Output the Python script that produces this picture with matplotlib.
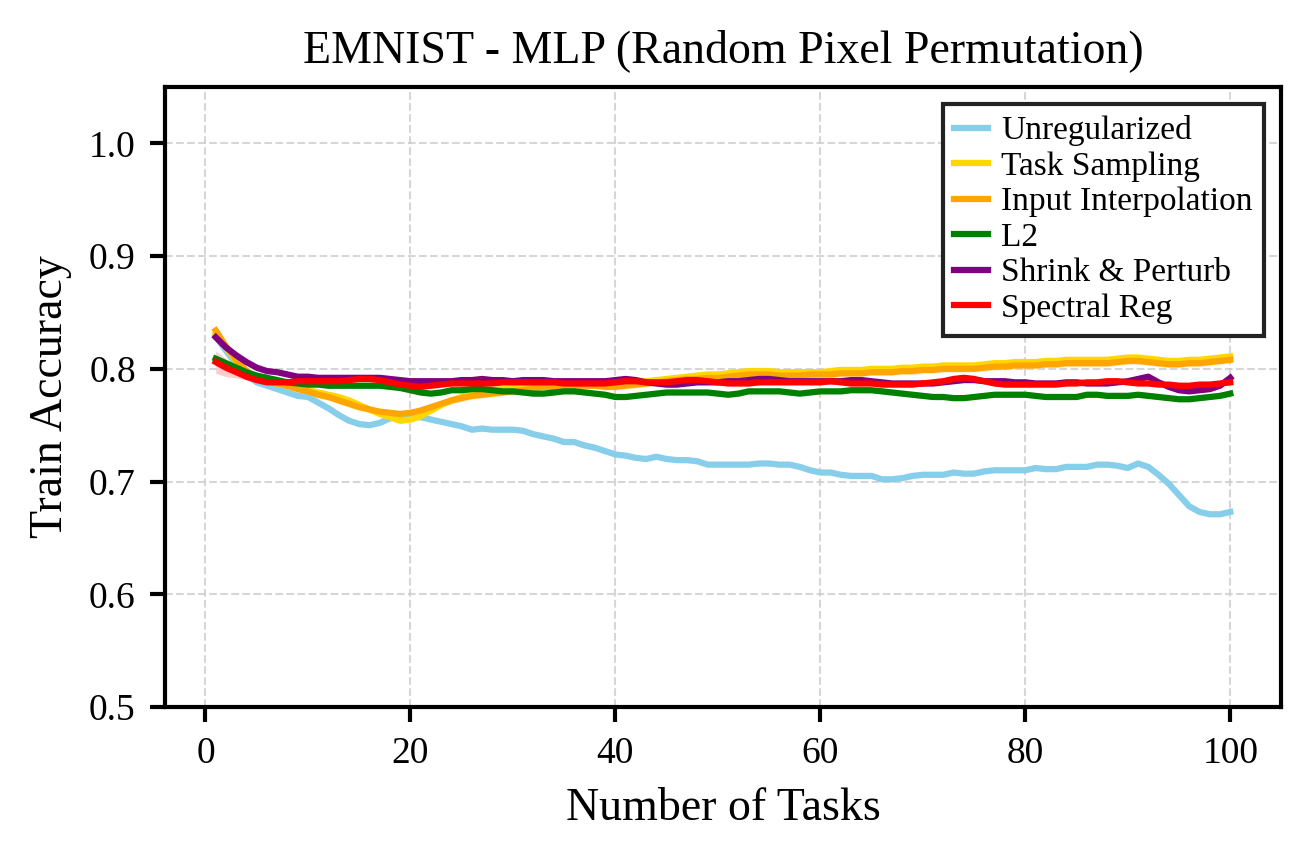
import numpy as np
import matplotlib
matplotlib.use("Agg")
import matplotlib.pyplot as plt

plt.rcParams["font.family"] = ["Liberation Serif", "DejaVu Serif"]
plt.rcParams["mathtext.fontset"] = "stix"

tasks = np.arange(1, 101)

unregularized = [
    0.829, 0.816, 0.804, 0.795, 0.788, 0.785, 0.782, 0.779, 0.776, 0.775,
    0.770, 0.765, 0.759, 0.754, 0.751, 0.750, 0.752, 0.756, 0.759, 0.759,
    0.757, 0.755, 0.753, 0.751, 0.749, 0.746, 0.747, 0.746, 0.746, 0.746,
    0.745, 0.742, 0.740, 0.738, 0.735, 0.735, 0.732, 0.730, 0.727, 0.724,
    0.723, 0.721, 0.720, 0.722, 0.720, 0.719, 0.719, 0.718, 0.715, 0.715,
    0.715, 0.715, 0.715, 0.716, 0.716, 0.715, 0.715, 0.713, 0.710, 0.708,
    0.708, 0.706, 0.705, 0.705, 0.705, 0.702, 0.702, 0.703, 0.705, 0.706,
    0.706, 0.706, 0.708, 0.707, 0.707, 0.709, 0.710, 0.710, 0.710, 0.710,
    0.712, 0.711, 0.711, 0.713, 0.713, 0.713, 0.715, 0.715, 0.714, 0.712,
    0.716, 0.713, 0.706, 0.698, 0.688, 0.678, 0.673, 0.671, 0.671, 0.673,
]
task_sampling = [
    0.831, 0.819, 0.807, 0.798, 0.792, 0.789, 0.787, 0.785, 0.783, 0.781,
    0.779, 0.777, 0.775, 0.772, 0.768, 0.764, 0.760, 0.757, 0.754, 0.755,
    0.758, 0.763, 0.768, 0.772, 0.775, 0.778, 0.780, 0.781, 0.782, 0.783,
    0.784, 0.785, 0.786, 0.787, 0.787, 0.787, 0.787, 0.787, 0.786, 0.786,
    0.787, 0.788, 0.789, 0.790, 0.791, 0.792, 0.793, 0.794, 0.795, 0.795,
    0.796, 0.797, 0.798, 0.798, 0.798, 0.797, 0.797, 0.797, 0.797, 0.797,
    0.798, 0.799, 0.799, 0.799, 0.800, 0.800, 0.800, 0.801, 0.801, 0.802,
    0.802, 0.803, 0.803, 0.803, 0.803, 0.804, 0.805, 0.805, 0.806, 0.806,
    0.806, 0.807, 0.807, 0.808, 0.808, 0.808, 0.808, 0.808, 0.809, 0.810,
    0.810, 0.809, 0.808, 0.807, 0.807, 0.808, 0.808, 0.809, 0.810, 0.811,
]
input_interp = [
    0.834, 0.820, 0.808, 0.798, 0.792, 0.789, 0.787, 0.785, 0.782, 0.780,
    0.777, 0.775, 0.772, 0.769, 0.766, 0.764, 0.762, 0.761, 0.760, 0.761,
    0.763, 0.766, 0.769, 0.772, 0.774, 0.776, 0.777, 0.778, 0.779, 0.780,
    0.781, 0.783, 0.784, 0.784, 0.785, 0.785, 0.785, 0.785, 0.784, 0.784,
    0.785, 0.786, 0.787, 0.788, 0.789, 0.790, 0.791, 0.791, 0.792, 0.792,
    0.793, 0.794, 0.795, 0.795, 0.795, 0.794, 0.794, 0.794, 0.795, 0.795,
    0.795, 0.796, 0.796, 0.796, 0.797, 0.797, 0.797, 0.798, 0.798, 0.799,
    0.799, 0.800, 0.800, 0.800, 0.800, 0.801, 0.802, 0.802, 0.803, 0.803,
    0.803, 0.804, 0.804, 0.805, 0.805, 0.805, 0.805, 0.805, 0.806, 0.807,
    0.807, 0.806, 0.805, 0.804, 0.804, 0.805, 0.805, 0.806, 0.807, 0.808,
]
l2 = [
    0.809, 0.805, 0.801, 0.797, 0.794, 0.792, 0.790, 0.788, 0.787, 0.786,
    0.786, 0.785, 0.785, 0.785, 0.785, 0.785, 0.785, 0.784, 0.783, 0.781,
    0.779, 0.778, 0.779, 0.781, 0.781, 0.782, 0.782, 0.781, 0.780, 0.780,
    0.779, 0.778, 0.778, 0.779, 0.780, 0.780, 0.779, 0.778, 0.777, 0.775,
    0.775, 0.776, 0.777, 0.778, 0.779, 0.779, 0.779, 0.779, 0.779, 0.778,
    0.777, 0.778, 0.780, 0.780, 0.780, 0.780, 0.779, 0.778, 0.779, 0.780,
    0.780, 0.780, 0.781, 0.781, 0.781, 0.780, 0.779, 0.778, 0.777, 0.776,
    0.775, 0.775, 0.774, 0.774, 0.775, 0.776, 0.777, 0.777, 0.777, 0.777,
    0.776, 0.775, 0.775, 0.775, 0.775, 0.777, 0.777, 0.776, 0.776, 0.776,
    0.777, 0.776, 0.775, 0.774, 0.773, 0.773, 0.774, 0.775, 0.776, 0.778,
]
shrink_perturb = [
    0.828, 0.819, 0.812, 0.806, 0.801, 0.798, 0.797, 0.795, 0.793, 0.793,
    0.792, 0.792, 0.792, 0.792, 0.792, 0.792, 0.792, 0.791, 0.790, 0.789,
    0.789, 0.789, 0.789, 0.789, 0.790, 0.790, 0.791, 0.790, 0.790, 0.789,
    0.790, 0.790, 0.790, 0.789, 0.789, 0.789, 0.789, 0.789, 0.789, 0.790,
    0.791, 0.790, 0.788, 0.787, 0.786, 0.786, 0.787, 0.788, 0.788, 0.788,
    0.789, 0.789, 0.790, 0.791, 0.791, 0.790, 0.789, 0.789, 0.789, 0.789,
    0.789, 0.789, 0.790, 0.790, 0.789, 0.788, 0.787, 0.787, 0.787, 0.787,
    0.787, 0.788, 0.789, 0.790, 0.790, 0.789, 0.789, 0.789, 0.788, 0.788,
    0.787, 0.787, 0.787, 0.788, 0.788, 0.787, 0.787, 0.787, 0.788, 0.789,
    0.791, 0.793, 0.788, 0.784, 0.781, 0.780, 0.781, 0.782, 0.785, 0.792,
]
spectral_reg = [
    0.806, 0.801, 0.797, 0.793, 0.790, 0.788, 0.788, 0.788, 0.789, 0.789,
    0.789, 0.789, 0.789, 0.790, 0.791, 0.791, 0.790, 0.788, 0.786, 0.785,
    0.784, 0.785, 0.786, 0.787, 0.787, 0.787, 0.787, 0.787, 0.788, 0.788,
    0.788, 0.788, 0.788, 0.788, 0.787, 0.787, 0.787, 0.787, 0.787, 0.788,
    0.789, 0.789, 0.788, 0.788, 0.788, 0.789, 0.790, 0.790, 0.789, 0.788,
    0.787, 0.787, 0.787, 0.788, 0.788, 0.788, 0.788, 0.788, 0.788, 0.788,
    0.789, 0.788, 0.787, 0.787, 0.787, 0.786, 0.786, 0.786, 0.786, 0.787,
    0.788, 0.789, 0.791, 0.792, 0.791, 0.789, 0.787, 0.786, 0.786, 0.786,
    0.786, 0.786, 0.786, 0.787, 0.787, 0.788, 0.788, 0.789, 0.789, 0.788,
    0.787, 0.787, 0.786, 0.786, 0.785, 0.785, 0.786, 0.786, 0.787, 0.788,
]

# rough half-widths of the shaded bands
band = {
    "Unregularized": 0.0015,
    "Task Sampling": 0.003,
    "Input Interpolation": 0.003,
    "L2": 0.002,
    "Shrink & Perturb": 0.002,
    "Spectral Reg": 0.002,
}
spectral_early_band = [0.010, 0.008, 0.005, 0.003]

series = [
    ("Unregularized", unregularized, "skyblue"),
    ("Task Sampling", task_sampling, "gold"),
    ("Input Interpolation", input_interp, "orange"),
    ("L2", l2, "green"),
    ("Shrink & Perturb", shrink_perturb, "purple"),
    ("Spectral Reg", spectral_reg, "red"),
]

fig = plt.figure(figsize=(1311 / 300, 860 / 300), dpi=300)
ax = fig.add_axes([165 / 1311, 1 - 707 / 860, (1281 - 165) / 1311, (707 - 87) / 860])

for label, vals, color in series:
    vals = np.asarray(vals)
    err = np.full(len(vals), band[label])
    if label == "Spectral Reg":
        err[:len(spectral_early_band)] = spectral_early_band
    ax.plot(tasks, vals, color=color, lw=1.5, label=label)
    ax.fill_between(tasks, vals - err, vals + err, color=color, alpha=0.2, lw=0)

ax.set_ylim(0.5, 1.05)
ax.set_yticks([0.5, 0.6, 0.7, 0.8, 0.9, 1.0])
ax.set_xticks([0, 20, 40, 60, 80, 100])
ax.tick_params(labelsize=9, width=1.0, length=3.5)
for s in ax.spines.values():
    s.set_linewidth(1.0)
ax.grid(True, ls="--", lw=0.5, color="#cccccc", alpha=0.8)

ax.set_title("EMNIST - MLP (Random Pixel Permutation)", fontsize=11)
ax.set_xlabel("Number of Tasks", fontsize=11)
ax.set_ylabel("Train Accuracy", fontsize=11)

leg = ax.legend(loc="upper right", fontsize=8, fancybox=False, edgecolor="#222222",
                handlelength=1.0, handletextpad=0.4, labelspacing=0.15,
                borderpad=0.35, framealpha=1.0)
leg.get_frame().set_linewidth(1.0)

fig.savefig("out.png", dpi=300)
